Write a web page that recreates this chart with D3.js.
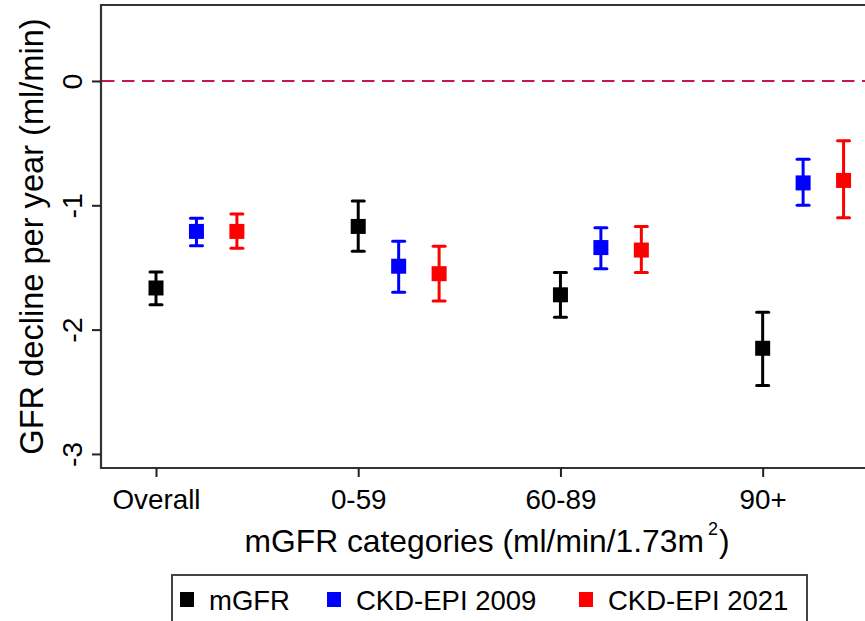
<!DOCTYPE html>
<html>
<head>
<meta charset="utf-8">
<script src="https://cdn.jsdelivr.net/npm/d3@7"></script>
<style>
	body { margin: 0; background: #fff; }
	svg { display: block; font-family: "Liberation Sans", Arial, sans-serif; }
</style>
</head>
<body>
<svg id="chart" width="865" height="621"></svg>
<script>

// categories and estimates (ml/min per year)
const categories = ["Overall", "0-59", "60-89", "90+"];

const mgfrEst = [-1.665, -1.17, -1.72, -2.15];
const mgfrLow = [-1.80, -1.37, -1.90, -2.45];
const mgfrHigh = [-1.537, -0.965, -1.54, -1.86];

const ckd2009Est = [-1.21, -1.49, -1.34, -0.82];
const ckd2009Low = [-1.325, -1.70, -1.51, -1.00];
const ckd2009High = [-1.105, -1.29, -1.18, -0.63];

const ckd2021Est = [-1.21, -1.55, -1.36, -0.80];
const ckd2021Low = [-1.346, -1.77, -1.54, -1.10];
const ckd2021High = [-1.07, -1.33, -1.17, -0.48];

const yTicks = [0, -1, -2, -3];
const seriesNames = ["mGFR", "CKD-EPI 2009", "CKD-EPI 2021"];
const seriesColors = ["#000000", "#0000ff", "#ff0000"];

//////////////////////////////////////////////////////////////////////

const series = [
	{name: seriesNames[0], color: seriesColors[0], shift: 0, est: mgfrEst, lo: mgfrLow, hi: mgfrHigh},
	{name: seriesNames[1], color: seriesColors[1], shift: 0.2, est: ckd2009Est, lo: ckd2009Low, hi: ckd2009High},
	{name: seriesNames[2], color: seriesColors[2], shift: 0.4, est: ckd2021Est, lo: ckd2021Low, hi: ckd2021High}
];

const svg = d3.select("#chart");

const plot = {left: 101, right: 884, top: 5, bottom: 468};

const x = d3.scaleLinear()
	.domain([0.728, 4.6])
	.range([plot.left, plot.right]);

const y = d3.scaleLinear()
	.domain([0.611, -3.113])
	.range([plot.top, plot.bottom]);

// frame (right side runs off the picture)
svg.append("path")
	.attr("d", "M" + plot.right + "," + plot.top + "H" + plot.left + "V" + plot.bottom + "H" + plot.right)
	.attr("fill", "none")
	.attr("stroke", "#333")
	.attr("stroke-width", 2.2);

// zero reference line
svg.append("line")
	.attr("x1", plot.left + 1)
	.attr("x2", 865)
	.attr("y1", y(0))
	.attr("y2", y(0))
	.attr("stroke", "#c8174f")
	.attr("stroke-width", 2)
	.attr("stroke-dasharray", "12.5,7.5");

// y axis
const yAxis = svg.append("g")
	.attr("transform", "translate(" + plot.left + ",0)")
	.call(d3.axisLeft(y).tickValues(yTicks).tickSize(9).tickFormat(d => d === 0 ? "0" : "-" + Math.abs(d)));

yAxis.select(".domain").remove();
yAxis.selectAll(".tick line").attr("stroke", "#222").attr("stroke-width", 2);
yAxis.selectAll(".tick text")
	.attr("x", 0)
	.attr("dy", 0)
	.attr("transform", "translate(-29,0) rotate(-90)")
	.attr("text-anchor", "middle")
	.attr("dominant-baseline", "central")
	.attr("font-size", 28.5)
	.attr("font-family", "Liberation Sans, Arial, sans-serif")
	.attr("fill", "#000");

// x axis
const xAxis = svg.append("g")
	.attr("transform", "translate(0," + plot.bottom + ")")
	.call(d3.axisBottom(x).tickValues([1, 2, 3, 4]).tickSize(9).tickFormat((d, i) => categories[i]));

xAxis.select(".domain").remove();
xAxis.selectAll(".tick line").attr("stroke", "#222").attr("stroke-width", 2);
xAxis.selectAll(".tick text")
	.attr("y", 0)
	.attr("dy", 0)
	.attr("transform", "translate(0,41)")
	.attr("font-size", 27.8)
	.attr("font-family", "Liberation Sans, Arial, sans-serif")
	.attr("fill", "#000");

// axis titles
svg.append("text")
	.attr("transform", "translate(43,236.5) rotate(-90)")
	.attr("text-anchor", "middle")
	.attr("font-size", 32.6)
	.text("GFR decline per year (ml/min)");

const xTitle = svg.append("text")
	.attr("x", 487)
	.attr("y", 552)
	.attr("text-anchor", "middle")
	.attr("font-size", 31.8);
xTitle.append("tspan").text("mGFR categories (ml/min/1.73m");
xTitle.append("tspan").attr("font-size", 18).attr("dx", 4).attr("dy", -17).text("2");
xTitle.append("tspan").attr("dy", 17).attr("dx", 1).text(")");

// error bars and markers
const capHalf = 6;
const box = 15;

series.forEach(s => {
	const g = svg.append("g").attr("stroke", s.color).attr("fill", s.color);
	const idx = d3.range(categories.length);

	g.selectAll("line.bar")
		.data(idx)
		.join("line")
		.classed("bar", true)
		.attr("x1", i => x(i + 1 + s.shift))
		.attr("x2", i => x(i + 1 + s.shift))
		.attr("y1", i => y(s.lo[i]))
		.attr("y2", i => y(s.hi[i]))
		.attr("stroke-width", 3);

	g.selectAll("line.caplo")
		.data(idx)
		.join("line")
		.classed("caplo", true)
		.attr("x1", i => x(i + 1 + s.shift) - capHalf)
		.attr("x2", i => x(i + 1 + s.shift) + capHalf)
		.attr("y1", i => y(s.lo[i]))
		.attr("y2", i => y(s.lo[i]))
		.attr("stroke-width", 3)
		.attr("stroke-linecap", "round");

	g.selectAll("line.caphi")
		.data(idx)
		.join("line")
		.classed("caphi", true)
		.attr("x1", i => x(i + 1 + s.shift) - capHalf)
		.attr("x2", i => x(i + 1 + s.shift) + capHalf)
		.attr("y1", i => y(s.hi[i]))
		.attr("y2", i => y(s.hi[i]))
		.attr("stroke-width", 3)
		.attr("stroke-linecap", "round");

	g.selectAll("rect")
		.data(idx)
		.join("rect")
		.attr("x", i => x(i + 1 + s.shift) - box / 2)
		.attr("y", i => y(s.est[i]) - box / 2)
		.attr("width", box)
		.attr("height", box)
		.attr("stroke", "none");
});

// legend
const legend = svg.append("g");
legend.append("rect")
	.attr("x", 172)
	.attr("y", 575)
	.attr("width", 635)
	.attr("height", 60)
	.attr("fill", "#fff")
	.attr("stroke", "#444")
	.attr("stroke-width", 2);

const legendX = [180, 327, 579];
series.forEach((s, i) => {
	legend.append("rect")
		.attr("x", legendX[i])
		.attr("y", 592)
		.attr("width", 14)
		.attr("height", 15)
		.attr("fill", s.color);
	legend.append("text")
		.attr("x", legendX[i] + 29)
		.attr("y", 610)
		.attr("font-size", 27.5)
		.text(s.name);
});

</script>
</body>
</html>
